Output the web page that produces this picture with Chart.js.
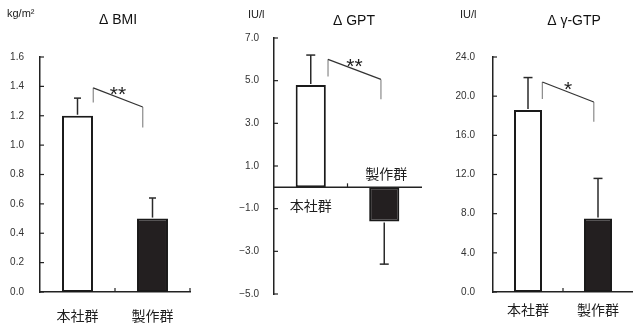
<!DOCTYPE html>
<html><head><meta charset="utf-8">
<script src="https://cdn.jsdelivr.net/npm/chart.js@4.4.1/dist/chart.umd.min.js"></script>
<style>
html,body{margin:0;padding:0;background:#fff;width:633px;height:326px;overflow:hidden}
.p{position:absolute;top:0;width:211px;height:326px}
canvas{display:block}
</style></head><body>
<div class="p" style="left:0"><canvas id="c1" width="211" height="326"></canvas></div>
<div class="p" style="left:211px"><canvas id="c2" width="211" height="326"></canvas></div>
<div class="p" style="left:422px"><canvas id="c3" width="211" height="326"></canvas></div>
<script>
// ---- data ----
const categories = ['本社群', '製作群'];

const bmiTitle = 'Δ BMI';
const bmiUnit = 'kg/m²';
const bmiMeans = [1.20, 0.50];
const bmiErrEnds = [1.32, 0.64];
const bmiTicks = [0, 0.2, 0.4, 0.6, 0.8, 1.0, 1.2, 1.4, 1.6];
const bmiBracketX = [0.21, 0.87];
const bmiBracketY = [1.29, 1.39, 1.26, 1.12];
const bmiSig = '**';

const gptTitle = 'Δ GPT';
const gptUnit = 'IU/l';
const gptMeans = [4.8, -1.6];
const gptErrEnds = [6.2, -3.6];
const gptTicks = [7, 5, 3, 1, -1, -3, -5];
const gptBracketX = [0.235, 0.955];
const gptBracketY = [5.2, 6.0, 5.06, 4.13];
const gptSig = '**';

const ggtTitle = 'Δ γ-GTP';
const ggtUnit = 'IU/l';
const ggtMeans = [18.6, 7.5];
const ggtErrEnds = [21.9, 11.6];
const ggtTicks = [0, 4, 8, 12, 16, 20, 24];
const ggtBracketX = [0.205, 0.94];
const ggtBracketY = [19.7, 21.45, 19.4, 17.4];
const ggtSig = '*';

const fmt = v => (v < 0 ? '−' + Math.abs(v).toFixed(1) : v.toFixed(1));

function overlay(p) {
  return {
    id: 'overlay',
    afterDraw(chart) {
      const ctx = chart.ctx, ca = chart.chartArea;
      const xs = chart.scales.x, ys = chart.scales.y;
      const meta = chart.getDatasetMeta(0);
      ctx.save();
      const base = p.zeroAxis ? ys.getPixelForValue(0) : ca.bottom;
      // zero axis line (GPT)
      ctx.strokeStyle = '#222'; ctx.lineWidth = 1.5;
      if (p.zeroAxis) {
        ctx.beginPath(); ctx.moveTo(ca.left, base); ctx.lineTo(chart.width, base); ctx.stroke();
      }
      // inside y ticks
      ctx.lineWidth = 1.2;
      p.ticks.forEach(v => {
        const y = ys.getPixelForValue(v);
        ctx.beginPath(); ctx.moveTo(ca.left, y); ctx.lineTo(ca.left + 4, y); ctx.stroke();
      });
      // inside x ticks at category boundaries
      p.xTickAt.forEach(v => {
        const x = xs.getPixelForValue(v);
        ctx.beginPath(); ctx.moveTo(x, base); ctx.lineTo(x, base - 4); ctx.stroke();
      });
      // error bars
      ctx.strokeStyle = '#2a2a2a'; ctx.lineWidth = 1.5;
      meta.data.forEach((bar, i) => {
        const y0 = ys.getPixelForValue(p.means[i]);
        const y1 = ys.getPixelForValue(p.errEnds[i]);
        const off = p.means[i] >= 0 ? -1 : 1;
        ctx.beginPath(); ctx.moveTo(bar.x, y0 + off); ctx.lineTo(bar.x, y1); ctx.stroke();
        ctx.beginPath(); ctx.moveTo(bar.x - p.cap, y1); ctx.lineTo(bar.x + p.cap, y1); ctx.stroke();
      });
      // significance bracket
      const bx0 = xs.getPixelForValue(p.brX[0]), bx1 = xs.getPixelForValue(p.brX[1]);
      const by = p.brY.map(v => ys.getPixelForValue(v));
      ctx.lineWidth = 1.2;
      ctx.strokeStyle = '#8a8a8a';
      ctx.beginPath(); ctx.moveTo(bx0, by[0]); ctx.lineTo(bx0, by[1]); ctx.stroke();
      ctx.beginPath(); ctx.moveTo(bx1, by[2]); ctx.lineTo(bx1, by[3]); ctx.stroke();
      ctx.strokeStyle = '#333';
      ctx.beginPath(); ctx.moveTo(bx0, by[1]); ctx.lineTo(bx1, by[2]); ctx.stroke();
      // stars
      ctx.fillStyle = '#222';
      ctx.font = '21px "Liberation Sans", Arial, sans-serif';
      ctx.textAlign = 'center'; ctx.textBaseline = 'alphabetic';
      const m = ctx.measureText(p.sig);
      const cy = (by[1] + by[2]) / 2 - 6.5;
      ctx.fillText(p.sig, (bx0 + bx1) / 2, cy + (m.actualBoundingBoxAscent - m.actualBoundingBoxDescent) / 2);
      // category labels
      ctx.font = '14px "Noto Sans CJK JP", sans-serif';
      ctx.fillStyle = '#1e1e1e';
      ctx.textBaseline = 'middle';
      meta.data.forEach((bar, i) => {
        const y = p.zeroAxis ? base + p.labelOff[i] : p.labelY;
        ctx.fillText(categories[i], bar.x + (p.labelDx ? p.labelDx[i] : 0), y);
      });
      // title
      ctx.font = '14px "Liberation Sans", Arial, sans-serif';
      ctx.fillStyle = '#111';
      ctx.fillText(p.title, p.titleX, p.titleY);
      // unit
      ctx.font = p.unitFont;
      ctx.textAlign = 'left';
      ctx.textBaseline = 'middle';
      ctx.fillStyle = '#222';
      ctx.fillText(p.unit, p.unitX, p.unitY);
      ctx.restore();
    }
  };
}

function makeChart(id, p) {
  return new Chart(document.getElementById(id), {
    type: 'bar',
    data: {
      labels: categories,
      datasets: [{
        data: p.means,
        backgroundColor: ['#ffffff', '#231f20'],
        borderColor: '#1a1a1a',
        borderWidth: 2,
        borderSkipped: false,
        barPercentage: p.barPct,
        categoryPercentage: 1
      }]
    },
    options: {
      responsive: false,
      animation: false,
      events: [],
      layout: { padding: { top: p.top, right: p.right, bottom: p.bottom, left: 0 } },
      plugins: { legend: { display: false }, tooltip: { enabled: false }, title: { display: false } },
      scales: {
        x: {
          display: !p.zeroAxis,
          grid: { display: false },
          ticks: { display: false },
          border: { display: true, color: '#222', width: 1.5 },
          afterFit: s => { s.height = p.xH; }
        },
        y: {
          min: p.min, max: p.max,
          afterBuildTicks: s => { s.ticks = p.ticks.map(v => ({ value: v })); },
          grid: { display: false, drawTicks: false },
          border: { display: true, color: '#222', width: 1.5 },
          ticks: {
            padding: p.tickPad, color: '#333',
            font: { family: '"Liberation Sans", Arial, sans-serif', size: 10 },
            callback: v => fmt(v)
          },
          afterFit: s => { s.width = p.yW; }
        }
      }
    },
    plugins: [overlay(p)]
  });
}

makeChart('c1', {
  means: bmiMeans, errEnds: bmiErrEnds, ticks: bmiTicks, min: 0, max: 1.6,
  brX: bmiBracketX, brY: bmiBracketY, sig: bmiSig,
  title: bmiTitle, titleX: 118, titleY: 20,
  unit: bmiUnit, unitX: 7, unitY: 14, unitFont: '11px "Liberation Sans", Arial, sans-serif',
  top: 57, right: 21, bottom: 0, xH: 34, yW: 40, tickPad: 16,
  barPct: 0.413, cap: 3.5, xTickAt: [0.5, 1.5], labelY: 316
});
makeChart('c2', {
  means: gptMeans, errEnds: gptErrEnds, ticks: gptTicks, min: -5, max: 7,
  brX: gptBracketX, brY: gptBracketY, sig: gptSig,
  title: gptTitle, titleX: 143, titleY: 21,
  unit: gptUnit, unitX: 37, unitY: 15, unitFont: '11px "Liberation Sans", Arial, sans-serif',
  top: 38, right: 1, bottom: 32, xH: 0, yW: 63, tickPad: 15,
  barPct: 0.41, cap: 4.5, xTickAt: [0.5], zeroAxis: true,
  labelOff: [18, -14], labelDx: [0, 2]
});
makeChart('c3', {
  means: ggtMeans, errEnds: ggtErrEnds, ticks: ggtTicks, min: 0, max: 24,
  brX: ggtBracketX, brY: ggtBracketY, sig: ggtSig,
  title: ggtTitle, titleX: 152, titleY: 21,
  unit: ggtUnit, unitX: 38, unitY: 15, unitFont: '11px "Liberation Sans", Arial, sans-serif',
  top: 57, right: 0, bottom: 0, xH: 34, yW: 71, tickPad: 18,
  barPct: 0.40, cap: 4.5, xTickAt: [0.5], labelY: 310
});
</script>
</body></html>
